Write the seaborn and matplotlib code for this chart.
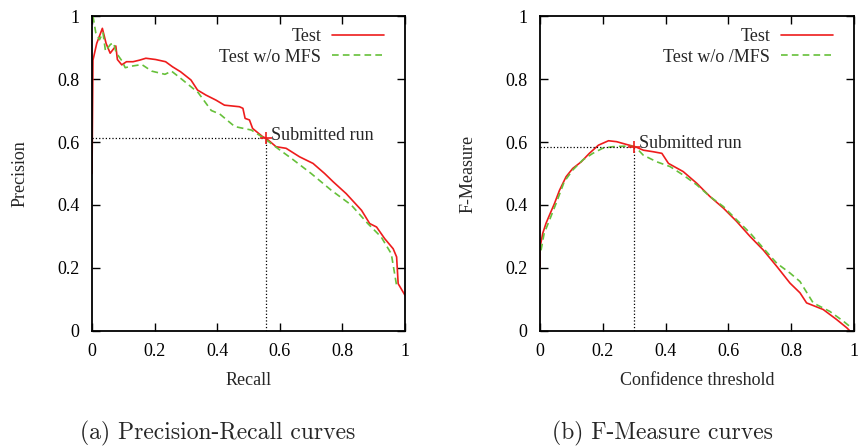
import pandas as pd
import matplotlib
matplotlib.use('Agg')
import matplotlib.pyplot as plt
import seaborn as sns

# precision-recall, "Test"
pr_test_recall = [0.0, 0.003, 0.015, 0.033, 0.045, 0.058, 0.076, 0.081, 0.095, 0.110, 0.131,
                  0.152, 0.172, 0.203, 0.235, 0.257, 0.283, 0.316, 0.337, 0.364, 0.396,
                  0.423, 0.471, 0.482, 0.489, 0.503, 0.513, 0.545, 0.556, 0.588, 0.620,
                  0.663, 0.706, 0.743, 0.770, 0.812, 0.861, 0.887, 0.909, 0.935, 0.962,
                  0.973, 0.978, 1.0]
pr_test_prec = [0.50, 0.86, 0.913, 0.961, 0.913, 0.882, 0.905, 0.862, 0.845, 0.855, 0.855,
                0.860, 0.866, 0.862, 0.855, 0.839, 0.823, 0.797, 0.765, 0.749, 0.733,
                0.717, 0.712, 0.707, 0.675, 0.670, 0.643, 0.617, 0.612, 0.585, 0.580,
                0.553, 0.532, 0.500, 0.474, 0.436, 0.383, 0.341, 0.330, 0.293, 0.261,
                0.235, 0.150, 0.113]

# precision-recall, "Test w/o MFS"
pr_nomfs_recall = [0.003, 0.012, 0.024, 0.035, 0.043, 0.059, 0.069, 0.077, 0.096, 0.106,
                   0.127, 0.159, 0.191, 0.233, 0.254, 0.281, 0.313, 0.339, 0.381, 0.408,
                   0.456, 0.509, 0.551, 0.594, 0.637, 0.700, 0.764, 0.828, 0.881, 0.924,
                   0.956, 0.972, 0.975]
pr_nomfs_prec = [1.0, 0.947, 0.925, 0.947, 0.889, 0.910, 0.915, 0.884, 0.857, 0.836,
                 0.841, 0.846, 0.825, 0.815, 0.825, 0.804, 0.778, 0.757, 0.700, 0.689,
                 0.649, 0.638, 0.611, 0.579, 0.548, 0.500, 0.447, 0.400, 0.341, 0.298,
                 0.245, 0.150, 0.140]

# f-measure vs confidence threshold
fm_test_thr = [0.0, 0.0, 0.0085, 0.019, 0.030, 0.046, 0.062, 0.083, 0.104, 0.131, 0.157,
               0.186, 0.218, 0.244, 0.276, 0.303, 0.329, 0.361, 0.388, 0.409, 0.456,
               0.499, 0.541, 0.584, 0.626, 0.669, 0.711, 0.754, 0.796, 0.828, 0.849,
               0.902, 0.945, 0.977, 0.987]
fm_test_f = [0.204, 0.266, 0.310, 0.342, 0.368, 0.405, 0.447, 0.490, 0.516, 0.537, 0.564,
             0.590, 0.604, 0.601, 0.592, 0.585, 0.574, 0.569, 0.564, 0.532, 0.506,
             0.469, 0.427, 0.390, 0.348, 0.300, 0.257, 0.205, 0.152, 0.121, 0.089,
             0.068, 0.036, 0.010, 0.0]

fm_nomfs_thr = [0.003, 0.013, 0.030, 0.051, 0.077, 0.104, 0.136, 0.168, 0.199, 0.231,
                0.276, 0.303, 0.329, 0.372, 0.414, 0.456, 0.499, 0.541, 0.584, 0.626,
                0.669, 0.711, 0.754, 0.796, 0.828, 0.870, 0.923, 0.966, 0.992]
fm_nomfs_f = [0.256, 0.310, 0.352, 0.405, 0.474, 0.511, 0.543, 0.564, 0.580, 0.585,
              0.587, 0.585, 0.558, 0.537, 0.522, 0.495, 0.464, 0.427, 0.395, 0.353,
              0.311, 0.263, 0.215, 0.184, 0.157, 0.089, 0.062, 0.031, 0.010]

# submitted run points
sub_pr = (0.556, 0.612)
sub_fm = (0.300, 0.585)

ticks = [0, 0.2, 0.4, 0.6, 0.8, 1]
tick_labels = ['0', '0.2', '0.4', '0.6', '0.8', '1']

RED = '#ee1c1c'
GREEN = '#66c03a'
FS = 13

sns.set_theme(style='white')
plt.rcParams['font.family'] = ['Liberation Serif', 'DejaVu Serif']
plt.rcParams['font.size'] = FS

fig = plt.figure(figsize=(8.6, 4.46), dpi=100)
ax1 = fig.add_axes([0.107, 0.258, 0.364, 0.706])
ax2 = fig.add_axes([0.628, 0.258, 0.365, 0.706])


def draw(ax, x1, y1, x2, y2, lab1, lab2, sub, xlabel, ylabel):
    d1 = pd.DataFrame({'x': x1, 'y': y1})
    d2 = pd.DataFrame({'x': x2, 'y': y2})
    sns.lineplot(data=d1, x='x', y='y', ax=ax, sort=False, estimator=None,
                 color=RED, lw=1.2, label=lab1)
    sns.lineplot(data=d2, x='x', y='y', ax=ax, sort=False, estimator=None,
                 color=GREEN, lw=1.2, label=lab2, dashes=False)
    ax.lines[-1].set_dashes([4, 2.5])
    # submitted run guide lines
    ax.plot([0, sub[0]], [sub[1], sub[1]], color='black', ls=':', lw=0.9)
    ax.plot([sub[0], sub[0]], [0, sub[1]], color='black', ls=':', lw=0.9)
    ax.plot([sub[0]], [sub[1]], marker='+', color=RED, ms=8, mew=1.2)
    ax.text(sub[0] + 0.015, sub[1] + 0.01, 'Submitted run', fontsize=FS,
            ha='left', va='center')
    ax.set_xlim(0, 1)
    ax.set_ylim(0, 1)
    ax.set_xticks(ticks)
    ax.set_xticklabels(tick_labels)
    ax.set_yticks(ticks)
    ax.set_yticklabels(tick_labels)
    ax.tick_params(direction='in', length=6, width=1, top=True, right=True,
                   bottom=True, left=True, labelsize=FS, pad=9, colors='black')
    for s in ax.spines.values():
        s.set_color('black')
        s.set_linewidth(1.3)
    ax.set_xlabel(xlabel, fontsize=FS, labelpad=8)
    ax.set_ylabel(ylabel, fontsize=FS, labelpad=21)
    ax.legend(loc='upper right', bbox_to_anchor=(0.957, 0.985), frameon=False,
              markerfirst=False, fontsize=FS, handlelength=2.9, labelspacing=0.2,
              borderaxespad=0.0, handletextpad=0.6)


draw(ax1, pr_test_recall, pr_test_prec, pr_nomfs_recall, pr_nomfs_prec,
     'Test', 'Test w/o MFS', sub_pr, 'Recall', 'Precision')
draw(ax2, fm_test_thr, fm_test_f, fm_nomfs_thr, fm_nomfs_f,
     'Test', 'Test w/o /MFS', sub_fm, 'Confidence threshold', 'F-Measure')

fig.text(0.253, 0.028, '(a) Precision-Recall curves', ha='center', va='center',
         fontsize=17, family='cmr10')
fig.text(0.770, 0.028, '(b) F-Measure curves', ha='center', va='center',
         fontsize=17, family='cmr10')

fig.savefig('out.png', dpi=100)
